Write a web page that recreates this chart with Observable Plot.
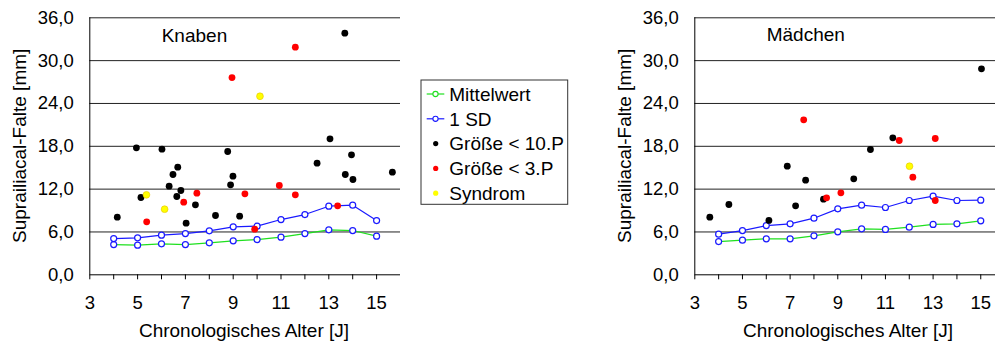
<!DOCTYPE html>
<html>
<head>
<meta charset="utf-8">
<script src="https://cdn.jsdelivr.net/npm/d3@7"></script>
<script src="https://cdn.jsdelivr.net/npm/@observablehq/plot@0.6"></script>
<style>
  html, body { margin: 0; padding: 0; background: white; }
  #root { position: relative; width: 995px; height: 347px; overflow: hidden; font-family: "Liberation Sans", Arial, sans-serif; }
  #root > svg, #root > div { position: absolute; top: 0; }
</style>
</head>
<body>
<div id="root"></div>
<script>
// ---------- data ----------
const ages = [4, 5, 6, 7, 8, 9, 10, 11, 12, 13, 14, 15];
const xTickLabels = [3, 5, 7, 9, 11, 13, 15];
const xMinorTicks = [3, 4, 5, 6, 7, 8, 9, 10, 11, 12, 13, 14, 15];
const yTicks = [0, 6, 12, 18, 24, 30, 36];

const boysMean = [4.24, 4.15, 4.34, 4.24, 4.48, 4.76, 4.94, 5.27, 5.78, 6.30, 6.20, 5.41];
const boysSD   = [5.08, 5.18, 5.55, 5.78, 6.16, 6.72, 6.81, 7.74, 8.44, 9.61, 9.75, 7.60];
const boysP10Age = [4.95, 6.02, 6.48, 6.68, 8.77, 8.99, 12.51, 13.05, 13.67, 13.95, 13.69, 14.01, 15.66, 4.15, 5.14, 6.32, 6.81, 6.64, 7.03, 7.42, 8.26, 8.89, 9.27];
const boysP10Val = [17.79, 17.60, 14.05, 15.07, 17.27, 13.81, 15.63, 19.05, 33.84, 16.80, 14.05, 13.35, 14.37, 8.07, 10.83, 12.41, 11.81, 10.97, 7.23, 9.80, 8.31, 12.60, 8.21];
const boysP3Age = [8.95, 11.60, 5.38, 6.93, 7.48, 9.49, 10.93, 11.60, 13.37, 9.90];
const boysP3Val = [27.63, 31.88, 7.42, 10.17, 11.43, 11.34, 12.51, 11.20, 9.66, 6.39];
const boysSynAge = [10.12, 5.37, 6.13];
const boysSynVal = [25.01, 11.20, 9.19];

const girlsMean = [4.66, 4.85, 5.04, 5.04, 5.46, 6.02, 6.44, 6.35, 6.67, 7.05, 7.14, 7.56];
const girlsSD   = [5.69, 6.20, 6.90, 7.14, 7.93, 9.24, 9.75, 9.43, 10.41, 11.01, 10.41, 10.45];
const girlsP10Age = [3.63, 4.43, 6.11, 7.23, 7.65, 8.40, 9.67, 6.88, 10.37, 11.31, 15.03];
const girlsP10Val = [8.07, 9.85, 7.61, 9.66, 13.25, 10.59, 13.45, 15.21, 17.55, 19.19, 28.85];
const girlsP3Age = [7.57, 11.58, 13.09, 12.15, 8.53, 9.13, 13.09];
const girlsP3Val = [21.71, 18.81, 19.09, 13.67, 10.78, 11.48, 10.41];
const girlsSynAge = [12.01];
const girlsSynVal = [15.21];

const panelTitles = ["Knaben", "Mädchen"];
const xTitle = "Chronologisches Alter [J]";
const yTitle = "Suprailiacal-Falte [mm]";
const legendLabels = ["Mittelwert", "1 SD", "Größe < 10.P", "Größe < 3.P", "Syndrom"];

// ---------- styling ----------
const FONT = '"Liberation Sans", Arial, sans-serif';
const FS = "18.5px";
const FS_TITLE = "19px";
const GREEN = "#1fe01f";
const BLUE = "#1a1aff";
const RED = "#ff0000";
const YELLOW = "#ffff00";

const pairs = (xs, ys) => xs.map((x, i) => ({x, y: ys[i]}));

function panel({mean, sd, p10, p3, syn, xMax, width, marginLeft}) {
  const meanData = pairs(ages, mean);
  const sdData = pairs(ages, sd);
  return Plot.plot({
    width, height: 347,
    marginLeft, marginRight: 0, marginTop: 17.3, marginBottom: 72.7,
    style: {fontFamily: FONT, fontSize: FS, color: "black", background: "transparent", overflow: "visible"},
    x: {domain: [xMinorTicks[0], xMax]},
    y: {domain: [yTicks[0], yTicks[yTicks.length - 1]]},
    marks: [
      Plot.ruleY(yTicks.slice(1), {stroke: "#222", strokeWidth: 1}),
      Plot.ruleY([yTicks[0]], {stroke: "black", strokeWidth: 1}),
      Plot.ruleX([xMinorTicks[0]], {stroke: "black", strokeWidth: 1}),
      Plot.axisX(xMinorTicks, {tickSize: 5, tickFormat: () => "", label: null, stroke: "black"}),
      Plot.axisX(xTickLabels, {tickSize: 0, tickPadding: 20.7, label: null, fontSize: FS}),
      Plot.axisY(yTicks, {tickSize: 0, tickPadding: 16, label: null, fontSize: FS,
        tickFormat: d => d.toFixed(1).replace(".", ",")}),
      Plot.line(meanData, {x: "x", y: "y", stroke: GREEN, strokeWidth: 1.2}),
      Plot.line(sdData, {x: "x", y: "y", stroke: BLUE, strokeWidth: 1.2}),
      Plot.dot(meanData, {x: "x", y: "y", r: 3, stroke: BLUE, fill: "white", strokeWidth: 1.2}),
      Plot.dot(sdData, {x: "x", y: "y", r: 3, stroke: BLUE, fill: "white", strokeWidth: 1.2}),
      Plot.dot(p10, {x: "x", y: "y", r: 3.4, fill: "black"}),
      Plot.dot(p3, {x: "x", y: "y", r: 3.4, fill: RED}),
      Plot.dot(syn, {x: "x", y: "y", r: 3.4, fill: YELLOW, stroke: "#e6c200", strokeWidth: 0.6})
    ]
  });
}

const root = document.getElementById("root");

const left = panel({
  mean: boysMean, sd: boysSD,
  p10: pairs(boysP10Age, boysP10Val), p3: pairs(boysP3Age, boysP3Val), syn: pairs(boysSynAge, boysSynVal),
  xMax: 16, width: 400, marginLeft: 89.3
});
left.style.left = "0px";
root.appendChild(left);

const right = panel({
  mean: girlsMean, sd: girlsSD,
  p10: pairs(girlsP10Age, girlsP10Val), p3: pairs(girlsP3Age, girlsP3Val), syn: pairs(girlsSynAge, girlsSynVal),
  xMax: 3 + (995 - 694.3) / 23.83, width: 405, marginLeft: 104.3
});
right.style.left = "590px";
root.appendChild(right);

// ---------- overlay: titles and legend ----------
const svg = d3.select(root).append("svg")
  .attr("width", 995).attr("height", 347)
  .style("left", "0px").style("pointer-events", "none")
  .attr("font-family", FONT).attr("font-size", FS_TITLE);

// panel titles
svg.append("text").attr("x", 161.7).attr("y", 41.7).text(panelTitles[0]);
svg.append("text").attr("x", 766.7).attr("y", 41.3).text(panelTitles[1]);

// x titles
svg.append("text").attr("x", 244).attr("y", 336.7).attr("text-anchor", "middle").text(xTitle);
svg.append("text").attr("x", 848).attr("y", 336.7).attr("text-anchor", "middle").text(xTitle);

// y titles
svg.append("text").attr("transform", "translate(25.5,145.8) rotate(-90)").attr("text-anchor", "middle").text(yTitle);
svg.append("text").attr("transform", "translate(630.5,145.8) rotate(-90)").attr("text-anchor", "middle").text(yTitle);

// legend
const lg = svg.append("g");
lg.append("rect").attr("x", 421).attr("y", 80).attr("width", 146.7).attr("height", 124.3)
  .attr("fill", "white").attr("stroke", "#333").attr("stroke-width", 1);
const legendStyles = [
  {type: "line", color: GREEN},
  {type: "line", color: BLUE},
  {type: "dot", color: "black"},
  {type: "dot", color: RED},
  {type: "dot", color: YELLOW}
];
legendLabels.forEach((lab, i) => {
  const base = 100.7 + i * 24.8;
  const cy = base - 6.7;
  const s = legendStyles[i];
  if (s.type === "line") {
    lg.append("line").attr("x1", 426.7).attr("x2", 444.3).attr("y1", cy).attr("y2", cy)
      .attr("stroke", s.color).attr("stroke-width", 1.2);
    lg.append("circle").attr("cx", 435.5).attr("cy", cy).attr("r", 2.6)
      .attr("fill", "white").attr("stroke", s.color).attr("stroke-width", 1.1);
  } else {
    lg.append("circle").attr("cx", 435.7).attr("cy", cy).attr("r", 2.6).attr("fill", s.color);
  }
  lg.append("text").attr("x", 449.3).attr("y", base).text(lab);
});
</script>
</body>
</html>
